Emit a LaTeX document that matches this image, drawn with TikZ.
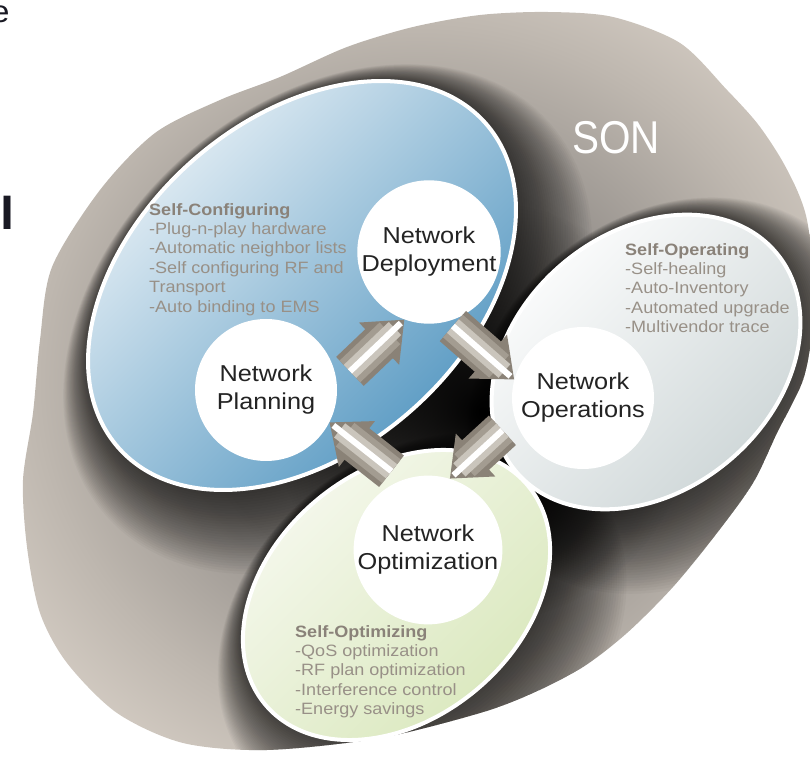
\documentclass[tikz,border=0pt]{standalone}
\usepackage{fontspec}
\usepackage{tikz}
\usetikzlibrary{arrows.meta, fadings}
\newfontfamily\netfont[FakeStretch=1.1]{Liberation Sans}
\newfontfamily\sonfont[FakeStretch=0.88]{Liberation Sans}

\definecolor{sonbeige}{RGB}{216,208,199}
\definecolor{sonmid}{RGB}{190,183,175}
\definecolor{sondark}{RGB}{152,147,142}
\definecolor{cfglight}{RGB}{238,244,248}
\definecolor{cfgmid}{RGB}{140,190,218}
\definecolor{cfgdeep}{RGB}{76,146,190}
\definecolor{opermid}{RGB}{226,231,231}
\definecolor{operdeep}{RGB}{203,212,213}
\definecolor{optzlight}{RGB}{247,249,240}
\definecolor{optzmid}{RGB}{229,238,207}
\definecolor{optzdeep}{RGB}{216,231,186}
\definecolor{nettext}{RGB}{35,35,35}
\definecolor{desctext}{RGB}{152,144,135}
\definecolor{deschead}{RGB}{138,130,121}
\definecolor{arrowedge}{RGB}{138,130,119}
\definecolor{arrowbody}{RGB}{184,177,166}
\definecolor{fragment}{RGB}{25,25,35}

\pgfdeclareradialshading{songlow}{\pgfpoint{0bp}{0bp}}{color(0bp)=(sondark); color(14bp)=(sondark); color(24bp)=(sonmid); color(32bp)=(sonbeige); color(50bp)=(sonbeige)}
\tikzfading[name=darkcore, inner color=transparent!0, outer color=transparent!100]

% soft shadow of a tilted ellipse: centre x, centre y, x radius, y radius, angle
\newcommand{\softshadow}[5]{%
  \foreach \k in {1,...,32}
    \fill[black, opacity=0.027, rotate around={#5:(#1+0.8*\k,#2-1.05*\k)}]
      (#1+0.8*\k,#2-1.05*\k) ellipse [x radius=#3+1.6*\k, y radius=#4+1.6*\k];}

\tikzset{
  netnode/.style={circle, fill=white, minimum size=142pt, inner sep=0pt, align=center,
    text=nettext, font=\netfont\fontsize{23}{28}\selectfont},
  desc/.style={anchor=north west, inner sep=0pt, align=left, text=desctext,
    font=\netfont\fontsize{16.4}{19.4}\selectfont},
  rim/.style={draw=white, line width=4pt},
  cfgfill/.style={top color=cfglight, middle color=cfgmid, bottom color=cfgdeep, shading angle=45},
  operfill/.style={top color=white, middle color=opermid, bottom color=operdeep, shading angle=45},
  optzfill/.style={top color=optzlight, middle color=optzmid, bottom color=optzdeep, shading angle=45},
  arrowbase/.style={line width=40pt, arrowedge, -{Triangle[width=56pt, length=35pt]}},
  arrowmid/.style={line width=30pt, arrowedge!45!arrowbody, shorten >=20pt},
  arrowlight/.style={line width=18pt, arrowbody!75!white, shorten >=13pt},
  arrowshine/.style={line width=6pt, white, shorten >=5pt}
}

\begin{document}
\begin{tikzpicture}[x=1pt, y=1pt]
\useasboundingbox (0,0) rectangle (810,757);
\clip (0,0) rectangle (810,757);
% SON area with the shadows of the three fields inside it
\begin{scope}
\path[preaction={shade, shading=songlow}, clip] plot[smooth cycle] coordinates {
  (547,745) (613,740) (680,714) (727,667) (757,634) (780,600) (797,567) (807,537)
  (813,487) (812,427) (803,377) (777,324) (753,274) (717,224) (673,170) (627,124)
  (583,90) (533,64) (480,44) (380,19) (267,7) (183,14) (117,44) (67,94) (40,144)
  (27,210) (23,277) (33,344) (40,417) (52,490) (100,567) (155,624) (220,657)
  (280,680) (347,710) (413,730) (480,742)};
\softshadow{302}{471.5}{245}{166}{41.5}
\softshadow{646}{395}{170}{129}{40}
\softshadow{396.5}{162}{171}{124}{39.7}
\fill[black, path fading=darkcore] (482,345) circle (210);
\end{scope}
\node[text=white, font=\sonfont\fontsize{46}{46}\selectfont] (son) at (616,619) {SON};

% the three fields
\path[rim, cfgfill, rotate around={41.5:(302,471.5)}] (302,471.5) ellipse [x radius=245, y radius=166];
\path[rim, operfill, rotate around={40:(646,395)}] (646,395) ellipse [x radius=170, y radius=129];
\path[rim, optzfill, rotate around={39.7:(396.5,162)}] (396.5,162) ellipse [x radius=171, y radius=124];

\node[netnode] (deploy) at (429,505) {Network\\Deployment};
\node[netnode] (plan) at (266,367) {Network\\Planning};
\node[netnode] (ops) at (583,359) {Network\\Operations};
\node[netnode] (opt) at (428,207) {Network\\Optimization};

% cycle of block arrows
\foreach \from/\to/\gap in {plan.5/deploy.250/18pt, deploy.285/ops.165/7pt,
    ops.197/opt.73/17pt, opt.110/plan.333/14pt}{
  \draw[arrowbase, shorten <=\gap] (\from) -- (\to);
  \draw[arrowmid, shorten <=\gap] (\from) -- (\to);
  \draw[arrowlight, shorten <=\gap] (\from) -- (\to);
  \draw[arrowshine, shorten <=\gap] (\from) -- (\to);
}

\node[desc] (cfgtext) at (149,554) {{\bfseries\color{deschead}Self-Configuring}\\
  -Plug-n-play hardware\\-Automatic neighbor lists\\-Self configuring RF and\\
  Transport\\-Auto binding to EMS};
\node[desc] (opertext) at (625,514) {{\bfseries\color{deschead}Self-Operating}\\
  -Self-healing\\-Auto-Inventory\\-Automated upgrade\\-Multivendor trace};
\node[desc] (optztext) at (295,132) {{\bfseries\color{deschead}Self-Optimizing}\\
  -QoS optimization\\-RF plan optimization\\-Interference control\\-Energy savings};

% cut-off letters at the left edge
\node[text=fragment, font=\netfont\fontsize{31}{31}\selectfont, anchor=base] (fraga) at (0,734) {e};
\node[text=fragment, font=\netfont\bfseries\fontsize{46}{46}\selectfont, anchor=base west] (fragb) at (-3,527) {l};
\end{tikzpicture}
\end{document}
